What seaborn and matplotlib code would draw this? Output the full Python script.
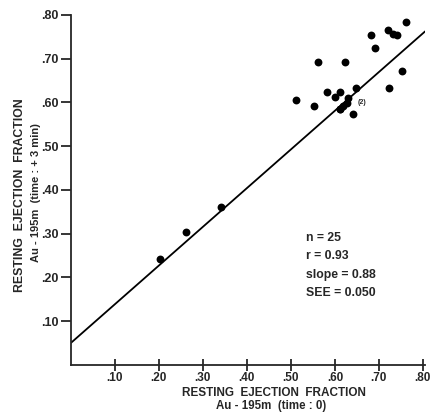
import matplotlib
matplotlib.use("Agg")
import matplotlib.pyplot as plt
import seaborn as sns
import pandas as pd

# resting ejection fraction, time 0 vs time +3 min (one point is a double, "(2)")
ef_time0 = [0.761, 0.721, 0.732, 0.741, 0.681, 0.692, 0.562, 0.622, 0.753, 0.649,
            0.722, 0.581, 0.612, 0.601, 0.512, 0.552, 0.630, 0.627, 0.619, 0.611,
            0.611, 0.642, 0.341, 0.261, 0.202]
ef_time3 = [0.784, 0.765, 0.757, 0.755, 0.754, 0.724, 0.693, 0.693, 0.673, 0.633,
            0.633, 0.623, 0.624, 0.612, 0.605, 0.592, 0.610, 0.599, 0.591, 0.584,
            0.584, 0.574, 0.362, 0.303, 0.243]

# regression line
intercept = 0.05
slope = 0.885
line_x = [0.0, 0.805]

ticks = [0.1, 0.2, 0.3, 0.4, 0.5, 0.6, 0.7, 0.8]
tick_labels = [".10", ".20", ".30", ".40", ".50", ".60", ".70", ".80"]
stats_lines = ["n = 25", "r = 0.93", "slope = 0.88", "SEE = 0.050"]

data = pd.DataFrame({"t0": ef_time0, "t3": ef_time3})
fit = pd.DataFrame({"x": line_x, "y": [intercept + slope * v for v in line_x]})

sns.set_style("ticks")
plt.rcParams["font.family"] = ["Liberation Sans", "DejaVu Sans"]
plt.rcParams["font.weight"] = "bold"

fig = plt.figure(figsize=(4.32, 4.16), dpi=100)
ax = fig.add_axes([0.164, 0.123, 0.82, 0.841])

sns.lineplot(x="x", y="y", data=fit, color="black", linewidth=1.3, ax=ax)
sns.scatterplot(x="t0", y="t3", data=data, color="black", s=32,
                edgecolor="black", linewidth=0, ax=ax, zorder=3)

ax.text(0.652, 0.600, "(2)", fontsize=5, fontweight="bold", va="center")

ax.set_xlim(0, 0.805)
ax.set_ylim(0, 0.80)
ax.set_xticks(ticks)
ax.set_xticklabels(tick_labels, fontsize=8.5, fontweight="bold")
ax.set_yticks(ticks)
ax.set_yticklabels(tick_labels, fontsize=9, fontweight="bold")
ax.tick_params(axis="x", direction="inout", length=8, width=1.3, pad=1)
ax.tick_params(axis="y", direction="out", length=7, width=1.3, pad=2)
sns.despine(ax=ax)
for s in ["left", "bottom"]:
    ax.spines[s].set_linewidth(1.3)

ax.set_xlabel("")
ax.set_ylabel("")
fig.text(0.633, 0.056, "RESTING  EJECTION  FRACTION", ha="center", va="center",
         fontsize=8.5, fontweight="bold")
fig.text(0.628, 0.023, "Au - 195m  (time : 0)", ha="center", va="center",
         fontsize=8.3, fontweight="bold")
fig.text(0.047, 0.530, "RESTING  EJECTION  FRACTION", ha="center", va="center",
         rotation=90, fontsize=8.8, fontweight="bold")
fig.text(0.084, 0.538, "Au - 195m  (time : + 3 min)", ha="center", va="center",
         rotation=90, fontsize=8, fontweight="bold")

for i, line in enumerate(stats_lines):
    ax.text(0.535, 0.290 - i * 0.042, line, fontsize=8.8, fontweight="bold",
            va="center")

plt.savefig("out.png", dpi=100)
